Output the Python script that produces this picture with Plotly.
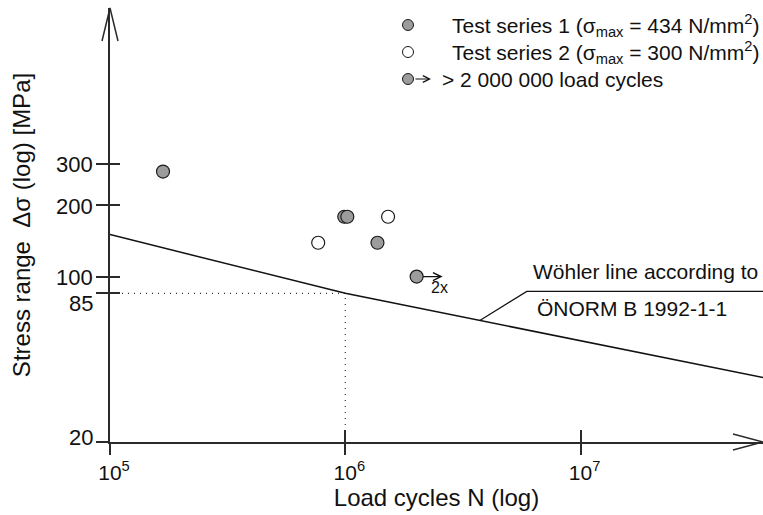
import numpy as np
import plotly.graph_objects as go

# ---------------- data ----------------
series1_N = [1.68e5, 9.9e5, 1.02e6, 1.37e6]
series1_ds = [278, 179, 179, 139]
series2_N = [7.67e5, 1.52e6]
series2_ds = [139, 179]
runout_N = [2.01e6]          # > 2 000 000 load cycles (test series 1)
runout_ds = [100]
runout_label = "2x"
wohler_N = [1e5, 1e6, 6e7]
wohler_ds = [150.5, 85, 37.4]
knee_N = 1e6
knee_ds = 85
xtick_vals = [1e5, 1e6, 1e7]
xtick_text = ["10<sup>5</sup>", "10<sup>6</sup>", "10<sup>7</sup>"]
ytick_vals = [20, 85, 100, 200, 300]
ytick_text = ["20", "85", "100", "200", "300"]
x_limits = [1e5, 5.96e7]
y_limits = [20, 1365]
legend_texts = [
    "Test series 1 (σ<sub>max</sub> = 434 N/mm<sup>2</sup>)",
    "Test series 2 (σ<sub>max</sub> = 300 N/mm<sup>2</sup>)",
    "> 2 000 000 load cycles",
]
wohler_text = ["Wöhler line according to", "ÖNORM B 1992-1-1"]
x_title = "Load cycles N (log)"
y_title = "Stress range\u00a0 Δσ (log) [MPa]"

# ---------------- style ----------------
FONT = "Liberation Sans, Arial, sans-serif"
INK = "#111111"
AX = "#2a2a2a"
GRAY = "#9c9c9c"
W, H = 763, 515
ML, MR, MT, MB = 110, 0, 8, 73
PW, PH = W - ML - MR, H - MT - MB

xr = [np.log10(v) for v in x_limits]
yr = [np.log10(v) for v in y_limits]


def px_to_paper(px, py):
    return (px - ML) / PW, (H - MB - py) / PH


fig = go.Figure()

# dotted reference lines to the knee point
fig.add_trace(go.Scatter(
    x=[x_limits[0], knee_N, knee_N], y=[knee_ds, knee_ds, y_limits[0]],
    mode="lines", line=dict(color="#333333", width=1.2, dash="1px,5px"),
    showlegend=False, hoverinfo="skip"))

# Woehler line
fig.add_trace(go.Scatter(
    x=wohler_N, y=wohler_ds, mode="lines",
    line=dict(color=INK, width=1.5), name="Wöhler line", showlegend=False))

mk = dict(size=13, line=dict(color="#1a1a1a", width=1.2))
fig.add_trace(go.Scatter(
    x=series2_N, y=series2_ds, mode="markers", name=legend_texts[1],
    marker=dict(color="white", **mk), showlegend=False))
fig.add_trace(go.Scatter(
    x=series1_N, y=series1_ds, mode="markers", name=legend_texts[0],
    marker=dict(color=GRAY, **mk), showlegend=False))
fig.add_trace(go.Scatter(
    x=runout_N, y=runout_ds, mode="markers", name=legend_texts[2],
    marker=dict(color=GRAY, **mk), showlegend=False))

# helper trace so the overlay tick axes exist
fig.add_trace(go.Scatter(x=[x_limits[0]], y=[y_limits[0]], xaxis="x2", yaxis="y2",
                         mode="markers", marker=dict(opacity=0), showlegend=False,
                         hoverinfo="skip"))

axis_common = dict(type="log", showgrid=False, zeroline=False)
fig.update_layout(
    width=W, height=H,
    margin=dict(l=ML, r=MR, t=MT, b=MB, pad=0),
    paper_bgcolor="white", plot_bgcolor="white",
    font=dict(family=FONT, color=INK, size=21),
    showlegend=False,
    xaxis=dict(**axis_common, range=xr, showline=True, linecolor=AX, linewidth=1.5,
               ticks="outside", ticklen=11, tickwidth=1.5, tickcolor=AX,
               tickvals=xtick_vals, ticktext=xtick_text, tickfont=dict(size=21),
               ticklabelshift=4,
               title=dict(text=x_title, font=dict(size=24), standoff=3)),
    yaxis=dict(**axis_common, range=yr, showline=True, linecolor=AX, linewidth=1.5,
               ticks="outside", ticklen=12, tickwidth=1.5, tickcolor=AX,
               tickvals=ytick_vals, showticklabels=False,
               title=dict(text=y_title, font=dict(size=24), standoff=59)),
    xaxis2=dict(**axis_common, range=xr, overlaying="x", anchor="y", side="bottom",
                ticks="inside", ticklen=12, tickwidth=1.5, tickcolor=AX,
                tickvals=xtick_vals, showticklabels=False, showline=False),
    yaxis2=dict(**axis_common, range=yr, overlaying="y", anchor="x", side="left",
                ticks="inside", ticklen=10, tickwidth=1.5, tickcolor=AX,
                tickvals=ytick_vals, showticklabels=False, showline=False),
)

annotations = []
# y tick labels (individual vertical nudges as in the original)
ylabel_shift = {20: 5, 85: -10}
for v, t in zip(ytick_vals, ytick_text):
    annotations.append(dict(
        x=0, xref="paper", y=np.log10(v), yref="y", text=t, showarrow=False,
        xanchor="right", yanchor="middle", xshift=-15, yshift=ylabel_shift.get(v, -1),
        font=dict(size=22, color=INK)))

# run-out arrow and count label
annotations.append(dict(
    x=np.log10(runout_N[0]), y=np.log10(runout_ds[0]), xref="x", yref="y",
    text="", showarrow=True, arrowhead=5, arrowsize=1.3, arrowwidth=1.2,
    arrowcolor=INK, ax=-21, ay=0, axref="pixel", ayref="pixel", xshift=26))
annotations.append(dict(
    x=np.log10(runout_N[0]), y=np.log10(runout_ds[0]), xref="x", yref="y",
    text=runout_label, showarrow=False, xshift=23, yshift=-11,
    font=dict(size=16, color=INK)))

# Woehler line callout text
px, py = px_to_paper(531, 271)
annotations.append(dict(x=px, y=py, xref="paper", yref="paper", text=wohler_text[0],
                        showarrow=False, xanchor="left", yanchor="middle",
                        font=dict(size=21, color=INK)))
px, py = px_to_paper(535, 308)
annotations.append(dict(x=px, y=py, xref="paper", yref="paper", text=wohler_text[1],
                        showarrow=False, xanchor="left", yanchor="middle",
                        font=dict(size=21, color=INK)))

# manual legend
shapes = []
legend_rows = [25, 52, 79]
legend_fill = [GRAY, "white", GRAY]
legend_text_x = [450, 450, 440]
for row, fill, tx, txt in zip(legend_rows, legend_fill, legend_text_x, legend_texts):
    mx, my = px_to_paper(408, row)
    shapes.append(dict(type="circle", xref="paper", yref="paper",
                       xsizemode="pixel", ysizemode="pixel", xanchor=mx, yanchor=my,
                       x0=-5.5, x1=5.5, y0=-5.5, y1=5.5,
                       fillcolor=fill, line=dict(color="#1a1a1a", width=1)))
    tx_p, _ = px_to_paper(tx, row)
    annotations.append(dict(x=tx_p, y=my, xref="paper", yref="paper", text=txt,
                            showarrow=False, xanchor="left", yanchor="middle",
                            font=dict(size=21, color=INK)))
hx, hy = px_to_paper(431, legend_rows[2])
annotations.append(dict(x=hx, y=hy, xref="paper", yref="paper", text="",
                        showarrow=True, arrowhead=5, arrowsize=1.2, arrowwidth=1.1,
                        arrowcolor=INK, ax=-17, ay=0))

# axis arrowheads
shapes.append(dict(type="path", xref="paper", yref="paper", xsizemode="pixel",
                   ysizemode="pixel", xanchor=1, yanchor=0,
                   path="M-30,8 L0,0 L-30,-8", line=dict(color=AX, width=1.5)))
shapes.append(dict(type="path", xref="paper", yref="paper", xsizemode="pixel",
                   ysizemode="pixel", xanchor=0, yanchor=1,
                   path="M-8,-33 L0,0 L8,-33", line=dict(color=AX, width=1.5)))

# callout leader from the Woehler line
lead_N = 3.73e6
lead_ds = knee_ds * (lead_N / knee_N) ** (np.log10(wohler_ds[2] / wohler_ds[1]) /
                                         np.log10(wohler_N[2] / wohler_N[1]))
shapes.append(dict(type="path", xref="x", yref="y", xsizemode="pixel", ysizemode="pixel",
                   xanchor=lead_N, yanchor=lead_ds,
                   path="M0,0 L47,29 L290,29", line=dict(color=INK, width=1.2)))

fig.update_layout(annotations=annotations, shapes=shapes)
fig.write_html("out.html")
